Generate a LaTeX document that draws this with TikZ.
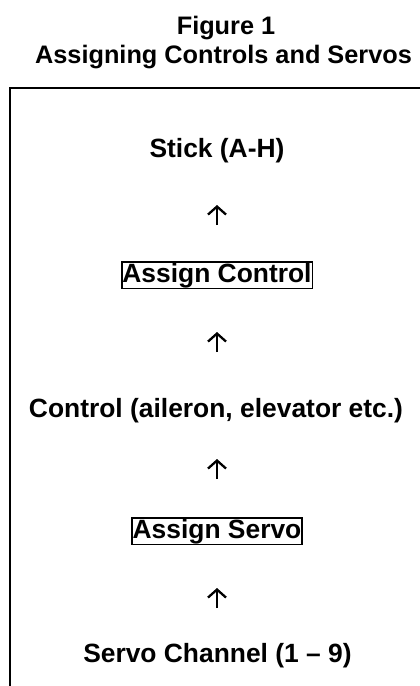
\documentclass[tikz,border=0pt]{standalone}
\usepackage{fontspec}
\setmainfont{Liberation Sans}
\usetikzlibrary{arrows.meta}
\begin{document}
\begin{tikzpicture}[x=1pt,y=-1pt,
  ttl/.style={font=\fontsize{25.3}{29}\selectfont\bfseries, inner sep=0pt, anchor=base},
  lbl/.style={font=\fontsize{26.4}{30}\selectfont\bfseries, inner sep=0pt, anchor=base},
  boxed/.style={lbl, draw, line width=1.8pt, inner xsep=0.8pt, inner ysep=0.8pt},
  uparr/.style={line width=2.3pt, -{Straight Barb[length=8pt,width=18pt,line width=2.3pt]}},
  frame/.style={line width=2pt}]
\useasboundingbox (0,0) rectangle (420,686);
\node[ttl] (fig) at (226,34) {Figure 1};
\node[ttl] (title) at (223.5,63) {Assigning Controls and Servos};
\coordinate (fbl) at (10,700);
\coordinate (ftl) at (10,88);
\coordinate (ftr) at (430,88);
\draw[frame] (fbl) -- (ftl) -- (ftr);
\node[lbl] (stick) at (217,157) {Stick (A-H)};
\node[boxed] (actl) at (217,282) {Assign Control};
\node[lbl] (ctl) at (216,417) {Control (aileron, elevator etc.)};
\node[boxed] (asrv) at (217,538) {Assign Servo};
\node[lbl] (chan) at (217.5,662) {Servo Channel (1 – 9)};
\foreach \n/\y in {a/215, b/342, c/469, d/598}{
  \coordinate (\n b) at (217,\y+10);
  \coordinate (\n t) at (217,\y-10);
  \draw[uparr] (\n b) -- (\n t);
}
\end{tikzpicture}
\end{document}
